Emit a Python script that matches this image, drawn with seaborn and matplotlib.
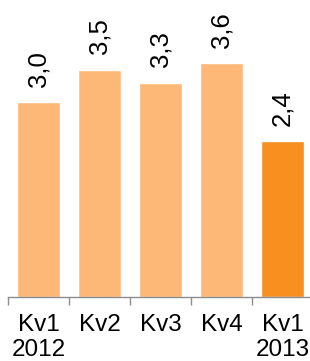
import matplotlib
matplotlib.use("Agg")
import matplotlib.pyplot as plt
import seaborn as sns
import pandas as pd
import numpy as np

# --- Data ---
quarters = ["Kv1\n2012", "Kv2", "Kv3", "Kv4", "Kv1\n2013"]
values = [3.0, 3.5, 3.3, 3.6, 2.4]
bar_colors = ["#FDB878", "#FDB878", "#FDB878", "#FDB878", "#F7901E"]

df = pd.DataFrame({"quarter": quarters, "value": values})

sns.set_style("white")
plt.rcParams["font.family"] = ["Liberation Sans", "DejaVu Sans"]

fig = plt.figure(figsize=(3.10, 3.61), dpi=100)
ax = fig.add_axes([8 / 310, 64 / 361, 305 / 310, 297 / 361])

sns.barplot(data=df, x="quarter", y="value", hue="quarter", palette=bar_colors,
            legend=False, width=0.72, saturation=1, ax=ax)

for i, v in enumerate(values):
    ax.annotate(f"{v:.1f}".replace(".", ","), xy=(i, v), xytext=(0, 11),
                textcoords="offset points", rotation=90, ha="center", va="bottom",
                fontsize=18.5, color="black")

ax.set_xlim(-0.5, 4.5)
ax.set_ylim(0, 297 / 65)
ax.set_xlabel("")
ax.set_ylabel("")
ax.set_yticks([])
for side in ["left", "right", "top"]:
    ax.spines[side].set_visible(False)
ax.spines["bottom"].set_color("#8c8c8c")
ax.spines["bottom"].set_linewidth(1)

# tick marks sit between the categories, labels under the bars
ax.set_xticks(np.arange(-0.5, 5, 1), minor=True)
ax.tick_params(axis="x", which="minor", bottom=True, length=6,
               color="#8c8c8c", width=1, direction="out")
ax.tick_params(axis="x", which="major", bottom=True, length=0, pad=12,
               labelsize=17.5, labelcolor="black")

fig.savefig("out.png", dpi=100)
